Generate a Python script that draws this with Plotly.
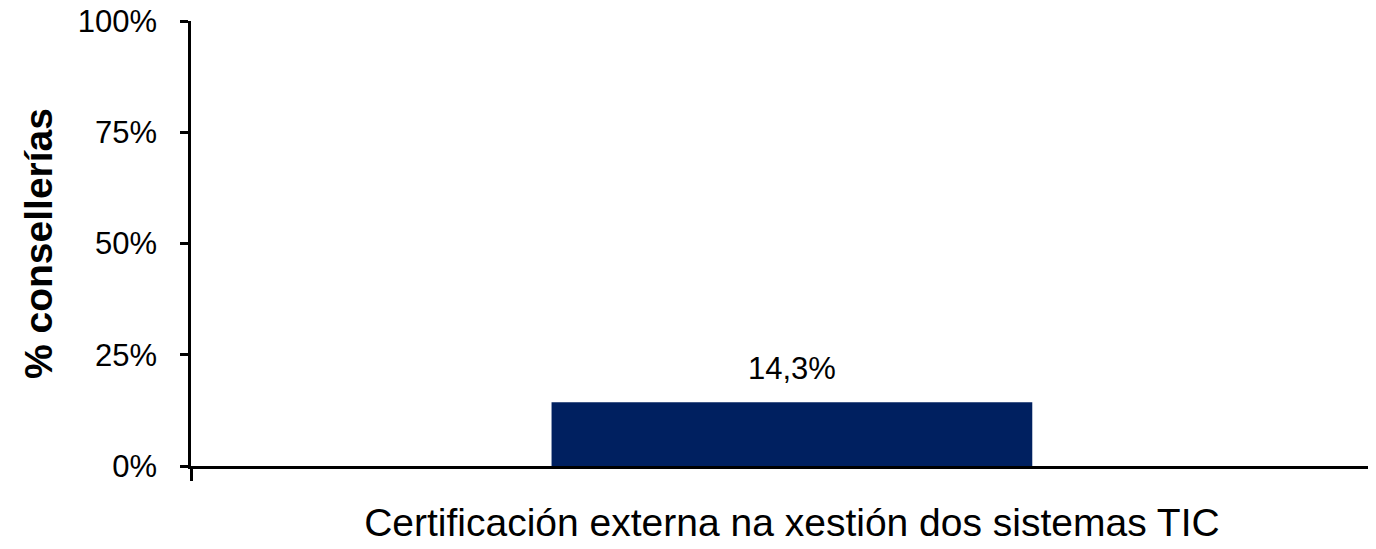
import plotly.graph_objects as go

categories = ["Certificación externa na xestión dos sistemas TIC"]
values = [14.3]
value_labels = ["14,3%"]
y_tick_values = [0, 25, 50, 75, 100]
y_tick_labels = ["0%", "25%", "50%", "75%", "100%"]
y_title = "% consellerías"

FONT = "Liberation Sans, Arial, sans-serif"

fig = go.Figure()
fig.add_trace(go.Bar(
    x=categories, y=values, width=0.4,
    marker=dict(color="#002060", line=dict(width=0)),
    hoverinfo="skip",
))
for c, v, t in zip(categories, values, value_labels):
    fig.add_annotation(x=c, y=v, text=t, showarrow=False, yanchor="bottom",
                       yshift=14, font=dict(family=FONT, size=31, color="#000000"))

# page has an 8px body margin, so the figure is sized/offset to compensate
fig.update_layout(
    width=1368, height=541,
    margin=dict(l=183, r=0, t=13, b=83),
    paper_bgcolor="white", plot_bgcolor="white",
    showlegend=False,
    font=dict(family=FONT, color="#000000"),
)
fig.update_xaxes(
    type="category", range=[-0.5, 0.486], automargin=False,
    showline=True, linecolor="#000000", linewidth=3,
    ticks="outside", tickson="boundaries", ticklen=12, tickwidth=2.5, tickcolor="#000000",
    tickfont=dict(family=FONT, size=39, color="#000000"),
    ticklabelstandoff=20, ticklabeloverflow="allow",
    showgrid=False, zeroline=False,
)
fig.update_yaxes(
    range=[0, 100], tickvals=y_tick_values, ticktext=y_tick_labels, automargin=False,
    showline=True, linecolor="#000000", linewidth=2.5,
    ticks="outside", ticklen=8, tickwidth=2.5, tickcolor="#000000",
    tickfont=dict(family=FONT, size=31, color="#000000"),
    ticklabelstandoff=17, ticklabeloverflow="allow",
    showgrid=False, zeroline=False,
    title=dict(text="<b>" + y_title + "</b>", font=dict(family=FONT, size=39, color="#000000"), standoff=14),
)
fig.write_html("out.html")
